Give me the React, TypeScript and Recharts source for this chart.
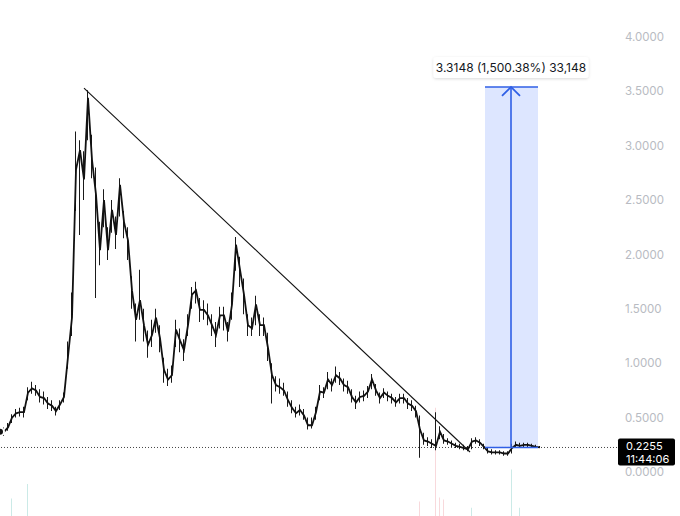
import React from 'react';
import { ComposedChart, Line, Bar, XAxis, YAxis, ReferenceLine, ReferenceArea, ReferenceDot, Cell } from 'recharts';

// Price samples (one per bar-group)
const closes = [
  0.37, 0.37, 0.41, 0.50, 0.54, 0.55, 0.55, 0.73, 0.77, 0.75,
  0.69, 0.68, 0.63, 0.61, 0.56, 0.62, 0.69, 1.06, 1.42, 2.78,
  2.96, 2.69, 3.44, 2.87, 2.55, 2.04, 2.50, 2.04, 2.41, 2.18,
  2.64, 2.30, 2.13, 1.67, 1.40, 1.58, 1.35, 1.17, 1.26, 1.42,
  1.23, 0.94, 0.85, 0.89, 1.31, 1.21, 1.12, 1.35, 1.63, 1.67,
  1.49, 1.49, 1.44, 1.35, 1.26, 1.44, 1.44, 1.29, 1.54, 2.09,
  1.86, 1.63, 1.35, 1.32, 1.54, 1.35, 1.35, 1.14, 0.89, 0.80,
  0.78, 0.75, 0.66, 0.59, 0.54, 0.57, 0.52, 0.43, 0.43, 0.55,
  0.74, 0.73, 0.85, 0.80, 0.89, 0.86, 0.80, 0.78, 0.69, 0.64,
  0.69, 0.70, 0.74, 0.85, 0.75, 0.68, 0.73, 0.70, 0.68, 0.64,
  0.68, 0.68, 0.63, 0.61, 0.56, 0.39, 0.29, 0.28, 0.26, 0.24,
  0.37, 0.29, 0.28, 0.26, 0.24, 0.23, 0.22, 0.21, 0.28, 0.29,
  0.27, 0.23, 0.19, 0.18, 0.18, 0.18, 0.17, 0.17, 0.22, 0.25,
  0.24, 0.25, 0.25, 0.24, 0.23, 0.2255,
];
const highs = [
  0.40, 0.41, 0.45, 0.53, 0.58, 0.59, 0.60, 0.78, 0.83, 0.80,
  0.76, 0.74, 0.69, 0.66, 0.60, 0.66, 0.73, 1.20, 1.65, 3.13,
  3.05, 2.95, 3.51, 3.10, 2.80, 2.30, 2.60, 2.25, 2.50, 2.35,
  2.70, 2.40, 2.25, 1.80, 1.55, 1.86, 1.50, 1.30, 1.40, 1.50,
  1.35, 1.05, 0.95, 0.98, 1.40, 1.32, 1.22, 1.45, 1.70, 1.75,
  1.60, 1.58, 1.55, 1.45, 1.38, 1.52, 1.52, 1.38, 1.65, 2.16,
  1.98, 1.78, 1.45, 1.42, 1.62, 1.45, 1.42, 1.28, 1.00, 0.88,
  0.86, 0.82, 0.74, 0.66, 0.60, 0.62, 0.58, 0.50, 0.50, 0.60,
  0.80, 0.78, 0.92, 0.86, 0.97, 0.92, 0.86, 0.84, 0.76, 0.70,
  0.74, 0.75, 0.79, 0.90, 0.81, 0.73, 0.77, 0.74, 0.72, 0.69,
  0.72, 0.72, 0.68, 0.66, 0.61, 0.52, 0.36, 0.32, 0.30, 0.55,
  0.42, 0.35, 0.31, 0.29, 0.27, 0.26, 0.25, 0.24, 0.31, 0.32,
  0.30, 0.26, 0.22, 0.21, 0.20, 0.20, 0.19, 0.19, 0.26, 0.28,
  0.27, 0.27, 0.27, 0.26, 0.25, 0.24,
];
const lows = [
  0.34, 0.33, 0.38, 0.45, 0.50, 0.51, 0.50, 0.66, 0.72, 0.70,
  0.64, 0.62, 0.58, 0.56, 0.52, 0.57, 0.64, 0.95, 1.25, 2.40,
  2.18, 2.50, 3.05, 2.70, 1.60, 1.90, 2.25, 1.95, 2.20, 2.05,
  2.35, 2.15, 1.95, 1.50, 1.20, 1.40, 1.20, 1.05, 1.15, 1.28,
  1.10, 0.82, 0.79, 0.82, 1.15, 1.10, 1.02, 1.25, 1.50, 1.55,
  1.38, 1.40, 1.35, 1.25, 1.15, 1.32, 1.30, 1.20, 1.40, 1.85,
  1.70, 1.45, 1.25, 1.25, 1.35, 1.25, 1.25, 1.02, 0.63, 0.74,
  0.72, 0.70, 0.60, 0.54, 0.50, 0.52, 0.48, 0.39, 0.40, 0.48,
  0.66, 0.68, 0.76, 0.74, 0.82, 0.80, 0.74, 0.72, 0.64, 0.58,
  0.64, 0.65, 0.68, 0.76, 0.70, 0.63, 0.68, 0.65, 0.63, 0.60,
  0.63, 0.63, 0.58, 0.56, 0.50, 0.13, 0.25, 0.24, 0.22, 0.20,
  0.30, 0.26, 0.25, 0.23, 0.22, 0.21, 0.20, 0.19, 0.21, 0.26,
  0.24, 0.21, 0.17, 0.16, 0.16, 0.16, 0.15, 0.15, 0.17, 0.22,
  0.22, 0.23, 0.23, 0.22, 0.22, 0.22,
];
// Visible volume spikes: sample index, volume, up/down
const volumeSpikes = [
  { i: 3, v: 17, up: true },
  { i: 7, v: 31, up: true },
  { i: 105, v: 14, up: false },
  { i: 109, v: 105, up: false },
  { i: 110, v: 18, up: false },
  { i: 111, v: 16, up: false },
  { i: 118, v: 8, up: true },
  { i: 128, v: 45, up: true },
  { i: 130, v: 8, up: true },
];
const priceTicks = [0, 0.5, 1, 1.5, 2, 2.5, 3, 3.5, 4];
const lastPrice = 0.2255;
const lastTime = '11:44:06';
const measureLabel = '3.3148 (1,500.38%) 33,148';
const trendStart = { i: 21, v: 3.53 };
const trendEnd = { i: 117.5, v: 0.184 };
const measureFromI = 121.25;
const measureToI = 134.5;
const measureMidI = 127.75;
const measureLow = 0.2255;
const measureHigh = 3.5403;

const volByIndex: Record<number, { v: number; up: boolean }> = {};
volumeSpikes.forEach((s) => { volByIndex[s.i] = { v: s.v, up: s.up }; });

const data = closes.map((c, i) => ({
  i,
  close: c,
  range: [lows[i], highs[i]],
  vol: volByIndex[i] ? volByIndex[i].v : 0,
  up: volByIndex[i] ? volByIndex[i].up : true,
}));

const BLUE = '#2f5fe6';
const FONT = "Inter, 'Noto Sans', 'DejaVu Sans', sans-serif";

const PriceTag = (props: any) => {
  const vb = props.viewBox || {};
  const x = (vb.x || 0) + (vb.width || 0) + 1;
  const y = vb.y || 0;
  return (
    <g>
      <rect x={x} y={y - 9} width={57} height={27} rx={2} fill="#000" />
      <text x={x + 8} y={y + 3} fill="#fff" fontSize={11} fontFamily={FONT}>{lastPrice.toFixed(4)}</text>
      <text x={x + 8} y={y + 16} fill="#fff" fontSize={11} fontFamily={FONT}>{lastTime}</text>
    </g>
  );
};

export default function App() {
  return (
    <div style={{ position: 'fixed', left: 0, top: 0, width: 680, height: 516, background: '#fff', fontFamily: FONT }}>
      <ComposedChart width={680} height={516} data={data} margin={{ top: 0, right: 0, bottom: 0, left: 0 }}>
        <defs>
          <filter id="boxShadow" x="-10%" y="-30%" width="120%" height="170%">
            <feDropShadow dx="0" dy="1" stdDeviation="1.5" floodColor="#000" floodOpacity="0.15" />
          </filter>
        </defs>
        <XAxis dataKey="i" type="number" domain={[0, 154.25]} hide allowDataOverflow />
        <XAxis dataKey="i" type="number" domain={[0, 154.25]} hide allowDataOverflow xAxisId="vx" />
        <YAxis
          orientation="right"
          width={63}
          domain={[-0.4046, 4.34]}
          ticks={priceTicks}
          tickFormatter={(v: number) => v.toFixed(4)}
          axisLine={false}
          tickLine={false}
          allowDataOverflow
          tick={{ fill: '#b8bbc2', fontSize: 11.5, fontFamily: FONT, textAnchor: 'start' }}
        />
        <YAxis yAxisId="vol" hide domain={[0, 500]} />
        <ReferenceArea x1={measureFromI} x2={measureToI} y1={measureLow} y2={measureHigh} fill="#2962ff" fillOpacity={0.16} stroke="none" ifOverflow="visible" />
        <Bar dataKey="vol" xAxisId="vx" yAxisId="vol" barSize={1} isAnimationActive={false}>
          {data.map((d, k) => (
            <Cell key={k} fill={d.up ? '#b9e3df' : '#f5ccd0'} fillOpacity={0.75} />
          ))}
        </Bar>
        <ReferenceLine y={lastPrice} stroke="#444" strokeDasharray="1 2" strokeWidth={1} label={PriceTag} ifOverflow="visible" />
        <Bar dataKey="range" barSize={1} fill="#1a1a1a" isAnimationActive={false} />
        <Line dataKey="close" type="linear" stroke="#111" strokeWidth={1.8} dot={false} isAnimationActive={false} />
        <ReferenceLine segment={[{ x: trendStart.i, y: trendStart.v }, { x: trendEnd.i, y: trendEnd.v }]} stroke="#111" strokeWidth={1.1} ifOverflow="visible" />
        <ReferenceLine segment={[{ x: measureFromI, y: measureHigh }, { x: measureToI, y: measureHigh }]} stroke={BLUE} strokeWidth={1.6} ifOverflow="visible" />
        <ReferenceLine segment={[{ x: measureFromI, y: measureLow }, { x: measureToI, y: measureLow }]} stroke={BLUE} strokeWidth={1.6} ifOverflow="visible" />
        <ReferenceLine segment={[{ x: measureMidI, y: measureLow }, { x: measureMidI, y: measureHigh }]} stroke={BLUE} strokeWidth={1.6} ifOverflow="visible" />
        <ReferenceDot
          x={measureMidI}
          y={measureHigh}
          r={1}
          ifOverflow="visible"
          shape={(p: any) => (
            <polyline
              points={`${p.cx - 9},${p.cy + 9} ${p.cx},${p.cy} ${p.cx + 9},${p.cy + 9}`}
              fill="none"
              stroke={BLUE}
              strokeWidth={1.8}
            />
          )}
        />
        <ReferenceDot
          x={measureMidI}
          y={measureHigh}
          r={1}
          ifOverflow="visible"
          shape={(p: any) => (
            <g>
              <rect x={p.cx - 77.5} y={p.cy - 30} width={155} height={21} rx={3} fill="#fff" filter="url(#boxShadow)" />
              <text x={p.cx} y={p.cy - 15} textAnchor="middle" fontSize={12} fill="#131722" fontFamily={FONT}>{measureLabel}</text>
            </g>
          )}
        />
      </ComposedChart>
    </div>
  );
}
